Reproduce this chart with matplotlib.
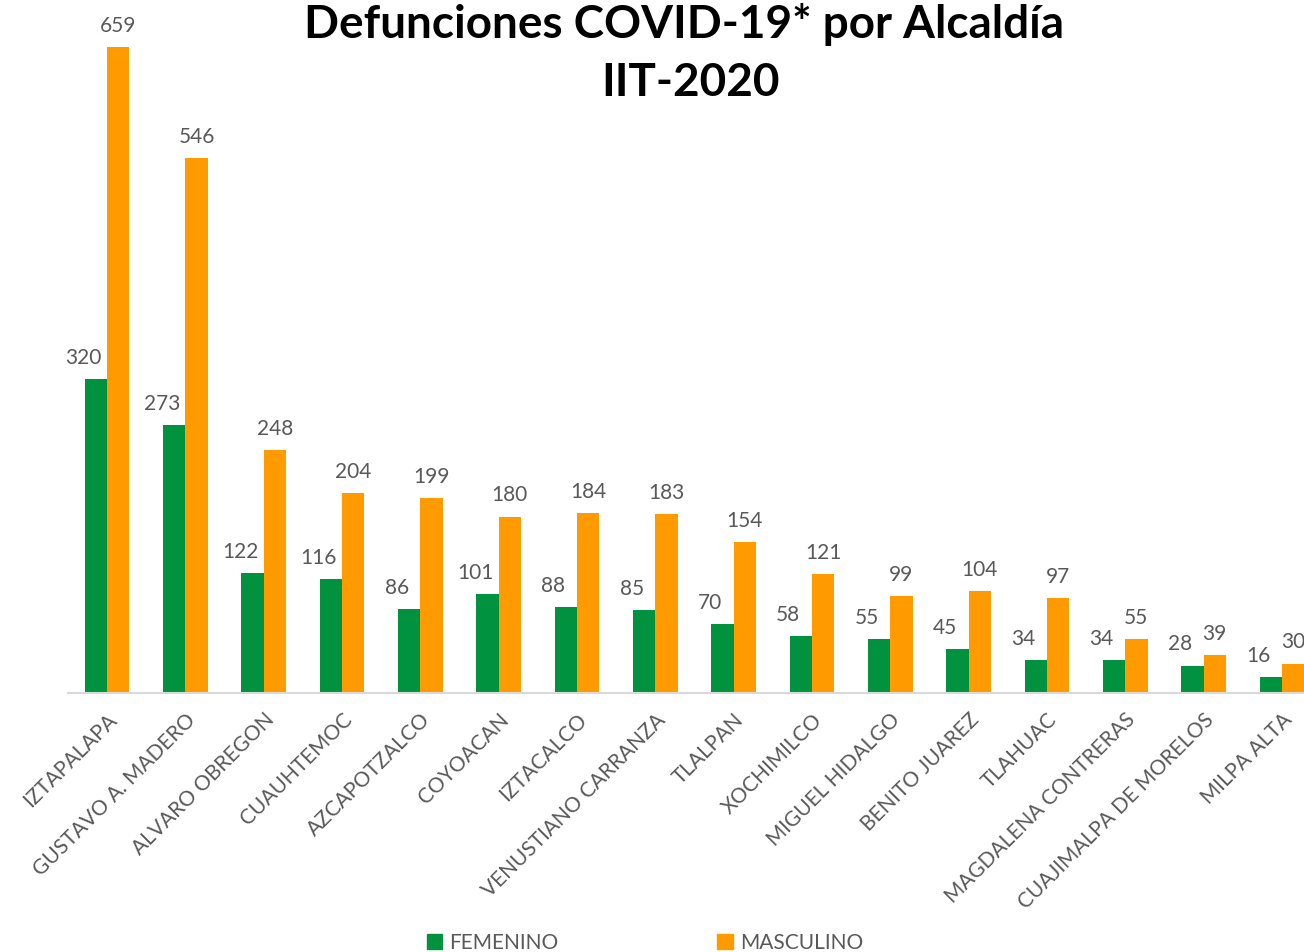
import numpy as np
import matplotlib.pyplot as plt
from matplotlib.patches import Patch

plt.rcParams['font.family'] = ['Lato', 'DejaVu Sans']

# datos
alcaldias = ['IZTAPALAPA', 'GUSTAVO A. MADERO', 'ALVARO OBREGON', 'CUAUHTEMOC',
             'AZCAPOTZALCO', 'COYOACAN', 'IZTACALCO', 'VENUSTIANO CARRANZA',
             'TLALPAN', 'XOCHIMILCO', 'MIGUEL HIDALGO', 'BENITO JUAREZ',
             'TLAHUAC', 'MAGDALENA CONTRERAS', 'CUAJIMALPA DE MORELOS', 'MILPA ALTA']
femenino = [320, 273, 122, 116, 86, 101, 88, 85, 70, 58, 55, 45, 34, 34, 28, 16]
masculino = [659, 546, 248, 204, 199, 180, 184, 183, 154, 121, 99, 104, 97, 55, 39, 30]

verde = '#00923F'
naranja = '#FF9A00'
gris = '#595959'

W, H = 1304, 952
fig = plt.figure(figsize=(W / 100, H / 100), dpi=100)
# ejes en pixeles: x de 68 a 1321, base en y=693
ax = fig.add_axes([68 / W, (H - 693) / H, (1321 - 68) / W, 686 / H])

x = np.arange(len(alcaldias))
bw = 0.285
ax.bar(x - bw / 2, femenino, bw, color=verde, label='FEMENINO')
ax.bar(x + bw / 2, masculino, bw, color=naranja, label='MASCULINO')

ax.set_xlim(-0.5, len(alcaldias) - 0.5)
ax.set_ylim(0, 700)

for i in range(len(alcaldias)):
    ax.annotate(str(femenino[i]), (x[i] - bw / 2, femenino[i]), xytext=(-9, 8),
                textcoords='offset points', ha='center', va='bottom',
                fontsize=15, color=gris)
    ax.annotate(str(masculino[i]), (x[i] + bw / 2, masculino[i]), xytext=(0, 8),
                textcoords='offset points', ha='center', va='bottom',
                fontsize=15, color=gris)

for s in ['top', 'right', 'left']:
    ax.spines[s].set_visible(False)
ax.spines['bottom'].set_color('#D9D9D9')
ax.spines['bottom'].set_linewidth(1.5)
ax.set_yticks([])
ax.set_xticks(x)
ax.set_xticklabels(alcaldias, rotation=45, ha='right', rotation_mode='anchor',
                   fontsize=15, color=gris)
ax.tick_params(axis='x', length=0, pad=12)

fig.text(684 / W, 1 - 24 / H, 'Defunciones COVID-19* por Alcaldía',
         ha='center', va='center', fontsize=33, fontweight='bold')
fig.text(690 / W, 1 - 83 / H, 'IIT-2020',
         ha='center', va='center', fontsize=33, fontweight='bold')

handles = [Patch(color=verde, label='FEMENINO'), Patch(color=naranja, label='MASCULINO')]
fig.legend(handles=handles, loc='center', bbox_to_anchor=(645 / W, 1 - 943 / H),
           ncol=2, frameon=False, fontsize=15, labelcolor=gris,
           handlelength=0.75, handleheight=0.75, handletextpad=0.35, columnspacing=7.6)

fig.savefig('out.png', dpi=100)
